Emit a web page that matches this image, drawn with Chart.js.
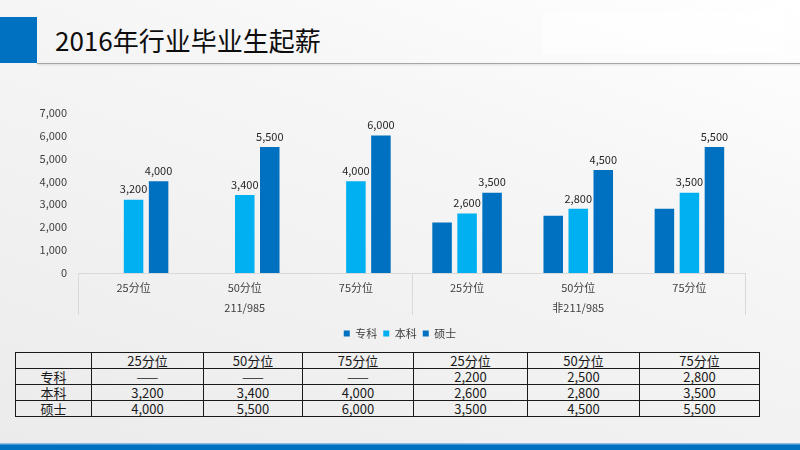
<!DOCTYPE html>
<html>
<head>
<meta charset="utf-8">
<script src="https://cdn.jsdelivr.net/npm/chart.js@4.4.0/dist/chart.umd.min.js"></script>
<style>
html, body { margin: 0; padding: 0; }
body {
  width: 800px; height: 450px; position: relative; overflow: hidden;
  font-family: "Noto Sans CJK SC", sans-serif;
  background: linear-gradient(200deg, #ffffff 0%, #f6f6f6 35%, #ebebeb 100%);
}
#mark { position: absolute; left: 0; top: 17px; width: 37px; height: 46px; background: #0070c0; }
#rule { position: absolute; left: 37px; top: 63px; width: 763px; height: 1px; background: #a6a6a6; box-shadow: 0 1px 2px rgba(0,0,0,.15); }
#title { position: absolute; left: 55px; top: 20px; font-size: 26px; line-height: 40px; color: #0d0d0d; }
#ghost { position: absolute; left: 543px; top: 12px; width: 240px; height: 42px; background: rgba(255,255,255,.6); }
#wrap { position: absolute; left: 0; top: 95px; width: 800px; height: 255px; }
table { position: absolute; left: 15px; top: 352px; width: 744px; border-collapse: collapse; table-layout: fixed; font-size: 13px; color: #1a1a1a; }
td { border: 1px solid #1a1a1a; text-align: center; padding: 0; height: 15px; line-height: 15px; }
#foot { position: absolute; left: 0; top: 443px; width: 800px; height: 7px; background: linear-gradient(#8dbbe4 0, #8dbbe4 1px, #0070c0 2px); }
</style>
</head>
<body>
<div id="mark"></div>
<div id="ghost"></div>
<div id="title">2016年行业毕业生起薪</div>
<div id="rule"></div>
<div id="wrap"><canvas id="myChart"></canvas></div>
<table id="grid">
  <colgroup>
    <col style="width:76px"><col style="width:112px"><col style="width:99px"><col style="width:111px">
    <col style="width:114px"><col style="width:112px"><col style="width:120px">
  </colgroup>
  <tbody></tbody>
</table>
<div id="foot"></div>
<script>
var categories = ['25分位', '50分位', '75分位', '25分位', '50分位', '75分位'];
var groups = ['211/985', '非211/985'];
var seriesNames = ['专科', '本科', '硕士'];
var zhuanke = [null, null, null, 2200, 2500, 2800];
var benke = [3200, 3400, 4000, 2600, 2800, 3500];
var shuoshi = [4000, 5500, 6000, 3500, 4500, 5500];

Chart.defaults.font.family = '"Noto Sans CJK SC", sans-serif';
Chart.defaults.font.size = 11;
Chart.defaults.color = '#404040';

// numbers above the bars
const valueLabels = {
    id: 'valueLabels',
    afterDatasetsDraw(chart) {
        const ctx = chart.ctx;
        ctx.save();
        ctx.font = '11px "Noto Sans CJK SC"';
        ctx.fillStyle = '#262626';
        ctx.textAlign = 'center';
        ctx.textBaseline = 'bottom';
        chart.data.datasets.forEach((ds, i) => {
            if (!ds.showValues) return;
            chart.getDatasetMeta(i).data.forEach((bar, j) => {
                const v = ds.data[j];
                if (v == null) return;
                ctx.fillText(v.toLocaleString('en-US'), bar.x, bar.y - 5);
            });
        });
        ctx.restore();
    }
};

// separators of the two-level category axis
const groupLines = {
    id: 'groupLines',
    afterDraw(chart) {
        const x = chart.scales.x;
        const x2 = chart.scales.x2;
        const mid = (x.getPixelForValue(2) + x.getPixelForValue(3)) / 2;
        const ctx = chart.ctx;
        ctx.save();
        ctx.strokeStyle = '#d9d9d9';
        ctx.lineWidth = 1;
        [x.left, mid, x.right].forEach((px) => {
            ctx.beginPath();
            ctx.moveTo(Math.round(px) + 0.5, x.top);
            ctx.lineTo(Math.round(px) + 0.5, x2.top + 20);
            ctx.stroke();
        });
        ctx.restore();
    }
};

function createChart() {
    const ctx = document.getElementById('myChart');
    new Chart(ctx, {
        type: 'bar',
        data: {
            labels: categories,
            datasets: [
                { label: seriesNames[0], data: zhuanke, backgroundColor: '#0070c0', showValues: false },
                { label: seriesNames[1], data: benke, backgroundColor: '#00b0f0', showValues: true },
                { label: seriesNames[2], data: shuoshi, backgroundColor: '#0070c0', showValues: true }
            ]
        },
        options: {
            responsive: true,
            maintainAspectRatio: false,
            animation: false,
            categoryPercentage: 0.675,
            barPercentage: 0.78,
            layout: { padding: { left: 38, right: 38, top: 17, bottom: 1 } },
            plugins: {
                legend: {
                    position: 'bottom',
                    labels: { boxWidth: 6, boxHeight: 6, padding: 6, color: '#404040', font: { size: 11 } }
                },
                tooltip: { enabled: false }
            },
            scales: {
                x: {
                    offset: true,
                    grid: { display: false, drawTicks: false },
                    border: { display: true, color: '#d9d9d9' },
                    ticks: { padding: 8, maxRotation: 0, autoSkip: false },
                    afterFit: (s) => { s.height = 22; }
                },
                x2: {
                    type: 'category',
                    labels: groups,
                    position: 'bottom',
                    offset: true,
                    grid: { display: false, drawTicks: false },
                    border: { display: false },
                    ticks: { padding: 6, maxRotation: 0 },
                    afterFit: (s) => { s.height = 27; }
                },
                y: {
                    min: 0,
                    max: 7000,
                    grid: { display: false, drawTicks: false },
                    border: { display: false },
                    ticks: { stepSize: 1000, padding: 11 },
                    afterFit: (s) => { s.width = 40; }
                },
                // empty right-hand spacer so the legend stays centred on the page
                yr: {
                    position: 'right',
                    grid: { display: false, drawTicks: false },
                    border: { display: false },
                    ticks: { display: false },
                    afterFit: (s) => { s.width = 17; }
                }
            }
        },
        plugins: [valueLabels, groupLines]
    });
}

function fillTable() {
    const body = document.querySelector('#grid tbody');
    const rows = [[''].concat(categories)];
    [zhuanke, benke, shuoshi].forEach((vals, i) => {
        rows.push([seriesNames[i]].concat(vals.map((v) => v == null ? '——' : v.toLocaleString('en-US'))));
    });
    rows.forEach((r) => {
        const tr = document.createElement('tr');
        r.forEach((c) => {
            const td = document.createElement('td');
            td.textContent = c;
            tr.appendChild(td);
        });
        body.appendChild(tr);
    });
}

fillTable();
createChart();
</script>
</body>
</html>
